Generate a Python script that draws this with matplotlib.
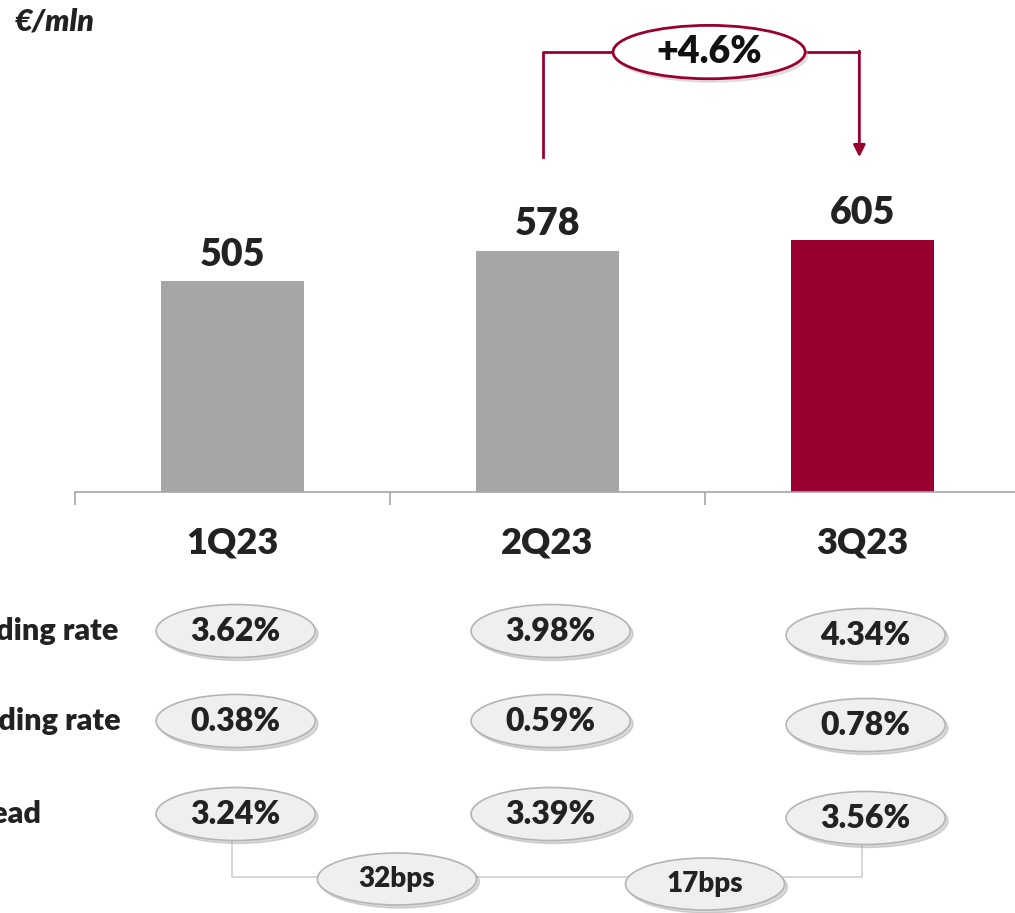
#import section
import matplotlib
matplotlib.use("Agg")
import matplotlib.pyplot as plt
from matplotlib.patches import Ellipse

#data
quarters = ["1Q23", "2Q23", "3Q23"]
margin = [505, 578, 605]
row_names = ["Lending rate", "Funding rate", "Spread"]
lending = ["3.62%", "3.98%", "4.34%"]
funding = ["0.38%", "0.59%", "0.78%"]
spread = ["3.24%", "3.39%", "3.56%"]
spread_delta = ["32bps", "17bps"]
growth = "+4.6%"

#style
grey = "#a6a6a6"
maroon = "#990030"
bar_colors = [grey, grey, maroon]
wt = 'heavy'
plt.rcParams['font.family'] = ['Lato', 'DejaVu Sans']

W, H = 1015, 913
fig = plt.figure(figsize=(W / 100, H / 100), dpi=100)

#bar chart
ax = fig.add_axes([75 / W, (H - 492) / H, 945 / W, 417 / H])
ax.bar(range(len(quarters)), margin, width=0.457, color=bar_colors, zorder=2)
ax.set_xlim(-0.5, 2.5)
ax.set_ylim(0, 1000)
for s in ['top', 'right', 'left']:
    ax.spines[s].set_visible(False)
ax.spines['bottom'].set_color(grey)
ax.spines['bottom'].set_linewidth(1.2)
ax.set_yticks([])
ax.set_xticks([-0.5, 0.5, 1.5, 2.5])
ax.set_xticklabels([])
ax.tick_params(axis='x', length=9, color=grey, width=1.2)

for i, v in enumerate(margin):
    ax.annotate(str(v), (i, v), xytext=(0, 7), textcoords='offset points',
                ha='center', va='bottom', fontsize=27, fontweight=wt, color='#222222')
    ax.annotate(quarters[i], (i, 0), xycoords=('data', 'axes fraction'), xytext=(0, -37),
                textcoords='offset points', ha='center', va='center',
                fontsize=26, fontweight=wt, color='#222222', annotation_clip=False)

#growth arrow
yl, yt = 803, 1055
xl, xr, xm = 1 - 0.015, 2 - 0.01, 1.513
ew, eh = 0.61, 128
ax.plot([xl, xl, xm - ew / 2], [yl, yt, yt], color=maroon, lw=2, clip_on=False, zorder=3)
ax.plot([xm + ew / 2, xr], [yt, yt], color=maroon, lw=2, clip_on=False, zorder=3)
ax.annotate('', xy=(xr, yl), xytext=(xr, yt + 2.5),
            arrowprops=dict(arrowstyle='-|>,head_length=0.7,head_width=0.35', color=maroon, lw=2,
                            shrinkA=0, shrinkB=0), annotation_clip=False)
ax.add_patch(Ellipse((xm + 0.008, yt - 8), ew, eh, color='#bbbbbb', alpha=0.4, clip_on=False, zorder=4))
ax.add_patch(Ellipse((xm, yt), ew, eh, facecolor='white', edgecolor=maroon, lw=2, clip_on=False, zorder=5))
ax.text(xm, yt, growth, ha='center', va='center', fontsize=27, fontweight=wt,
        color='#111111', zorder=6, clip_on=False)

#unit
fig.text(15 / W, 1 - 22 / H, "€/mln", fontsize=22, fontweight=wt, style='italic',
         color='#222222', va='center')

#rates table below the axis (y counted in pixels below the axis line)
tab = fig.add_axes([75 / W, 0, 945 / W, (H - 492) / H])
tab.set_xlim(-0.5, 2.5)
tab.set_ylim(H - 492, 0)
tab.axis('off')


def bubble(x, y, label, w=0.505, h=53, size=23):
    tab.add_patch(Ellipse((x + 0.009, y + 3), w, h, color='#a0a0a0', alpha=0.4, zorder=3))
    tab.add_patch(Ellipse((x, y), w, h, facecolor='#efefef', edgecolor='#b4b4b4', lw=1.2, zorder=4))
    tab.text(x, y, label, ha='center', va='center', fontsize=size, fontweight=wt,
             color='#222222', zorder=5)


row_y = [139, 229, 322]
rows = [lending, funding, spread]
for r, (name, vals) in enumerate(zip(row_names, rows)):
    tab.text(-0.91, row_y[r], name, ha='left', va='center', fontsize=22,
             fontweight=wt, color='#222222')
    for i, val in enumerate(vals):
        dy = 4 if i == 2 else 0
        bubble(i + 0.01, row_y[r] + dy, val)

#spread change connector
tab.plot([0, 0, 2, 2], [348, 385, 385, 352], color='#d0d0d0', lw=1.2, zorder=1)
bubble(0.522, 387, spread_delta[0], h=52, size=20)
bubble(1.5, 392, spread_delta[1], h=52, size=20)

plt.savefig("out.png", dpi=100)
